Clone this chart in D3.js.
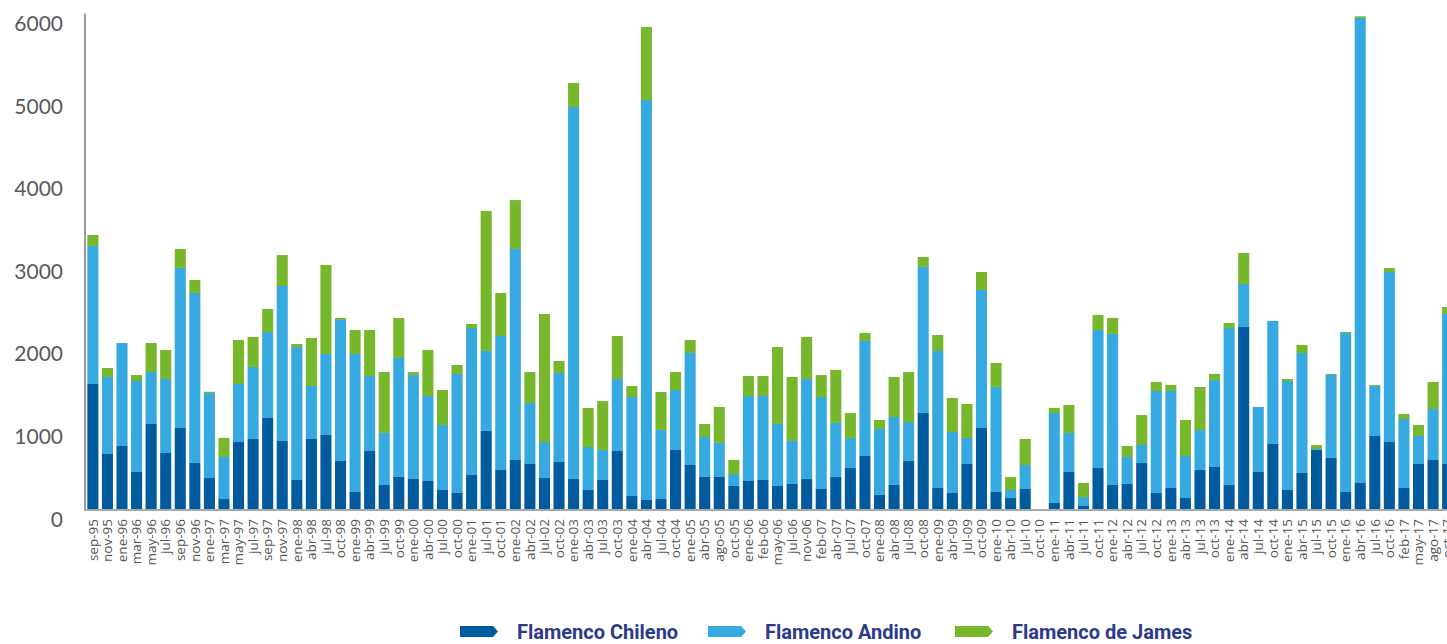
<!DOCTYPE html>
<html>
<head>
<meta charset="utf-8">
<script src="https://cdn.jsdelivr.net/npm/d3@7"></script>
<style>
  body { margin: 0; background: #fff; }
  svg { display: block; }
</style>
</head>
<body>
<svg class="chart"></svg>
<script>

var labels = ["sep-95","nov-95","ene-96","mar-96","may-96","jul-96","sep-96","nov-96","ene-97","mar-97",
	"may-97","jul-97","sep-97","nov-97","ene-98","abr-98","jul-98","oct-98","ene-99","abr-99",
	"jul-99","oct-99","ene-00","abr-00","jul-00","oct-00","ene-01","jul-01","oct-01","ene-02",
	"abr-02","jul-02","oct-02","ene-03","abr-03","jul-03","oct-03","ene-04","abr-04","jul-04",
	"oct-04","ene-05","abr-05","ago-05","oct-05","ene-06","feb-06","may-06","jul-06","nov-06",
	"feb-07","abr-07","jul-07","oct-07","ene-08","abr-08","jul-08","oct-08","ene-09","abr-09",
	"jul-09","oct-09","ene-10","abr-10","jul-10","oct-10","ene-11","abr-11","jul-11","oct-11",
	"ene-12","abr-12","jul-12","oct-12","ene-13","abr-13","jul-13","oct-13","ene-14","abr-14",
	"jul-14","oct-14","ene-15","abr-15","jul-15","oct-15","ene-16","abr-16","jul-16","oct-16",
	"feb-17","may-17","ago-17","oct-17"];

var chileno = [1514,666,763,448,1029,678,981,557,375,121,
	811,848,1102,823,351,848,896,581,206,702,
	291,388,363,339,230,194,412,945,472,593,
	545,375,569,363,230,351,702,157,109,121,
	714,533,388,388,279,339,351,279,303,363,
	242,388,496,642,170,291,581,1163,254,194,
	545,981,206,133,242,0,73,448,36,496,
	291,303,557,194,254,133,472,509,291,2204,
	448,787,230,436,714,618,206,315,884,811,
	254,545,593,545];

var andino = [1671,932,1247,1102,630,896,1938,2059,1029,509,
	702,872,1041,1877,1611,642,981,1708,1671,908,
	630,1441,1259,1029,787,1441,1780,969,1623,2555,
	739,436,1078,4505,521,363,872,1199,4844,836,
	727,1356,484,412,145,1029,1017,751,521,1211,
	1114,654,363,1393,799,823,472,1768,1659,739,
	315,1671,1272,97,291,0,1090,472,109,1671,
	1829,327,218,1235,1175,509,484,1054,1901,521,
	787,1490,1320,1453,12,1005,1925,5631,606,2059,
	836,339,618,1817];

var james = [133,109,0,73,351,351,230,157,15,230,
	533,363,279,375,36,581,1078,24,291,557,
	739,484,36,557,424,109,48,1695,521,593,
	375,1550,145,291,472,593,521,133,884,460,
	218,157,157,436,170,242,242,932,775,509,
	266,642,303,97,109,484,605,121,194,412,
	412,218,291,157,315,0,61,339,170,182,
	194,133,363,109,73,436,521,73,61,375,
	0,0,24,97,48,12,12,20,12,48,
	61,133,327,85];

var yTicks = [0,1000,2000,3000,4000,5000,6000];

var seriesNames = ["Flamenco Chileno","Flamenco Andino","Flamenco de James"];
var colors = ["#005a9e","#36a9e0","#77b72b"];

var width = 1447, height = 644;

var svg = d3.select(".chart").attr("width", width).attr("height", height);

// rows for the stack
var rows = labels.map(function(l, i){
	return {label: l, chileno: chileno[i], andino: andino[i], james: james[i]};
});
var stack = d3.stack().keys(["chileno","andino","james"]);
var layers = stack(rows);

// chart runs past the right edge like in the original
var x = d3.scaleBand().domain(labels).range([85, 1455.5]).paddingInner(0.24).paddingOuter(0.16);
var y = d3.scaleLinear().domain([0, 6000]).range([509, 13.5]);

var layer = svg.selectAll("g.layer").data(layers).enter().append("g")
	.attr("class","layer")
	.attr("fill", function(d,i){ return colors[i]; });

layer.selectAll("rect").data(function(d){ return d; }).enter().append("rect")
	.attr("x", function(d){ return x(d.data.label); })
	.attr("width", x.bandwidth())
	.attr("y", function(d){ return y(d[1]); })
	.attr("height", function(d){ return y(d[0]) - y(d[1]); });

// axis lines
svg.append("line").attr("x1",85).attr("x2",85).attr("y1",13.5).attr("y2",510)
	.attr("stroke","#9a9a9a").attr("stroke-width",2);
svg.append("line").attr("x1",84).attr("x2",width).attr("y1",510).attr("y2",510)
	.attr("stroke","#a8a8a8").attr("stroke-width",2);

// y labels (sit a bit below their lines, as in the source)
svg.selectAll("text.ytick").data(yTicks).enter().append("text")
	.attr("class","ytick")
	.attr("x", 63)
	.attr("y", function(d){ return y(d) + 10; })
	.attr("dy", "0.36em")
	.attr("text-anchor","end")
	.style("font-family","Lato, 'Open Sans', sans-serif")
	.style("font-size","21px")
	.style("fill","#5a5a5a")
	.text(function(d){ return d; });

// x labels
svg.selectAll("text.xtick").data(labels).enter().append("text")
	.attr("class","xtick")
	.attr("transform", function(d){ return "translate(" + (x(d) + x.bandwidth()/2) + ",519) rotate(-90)"; })
	.attr("dy","0.35em")
	.attr("text-anchor","end")
	.style("font-family","'Open Sans', sans-serif")
	.style("font-size","13.5px")
	.style("fill","#555")
	.text(function(d){ return d; });

// legend
var legendX = [460, 708, 955];
var leg = svg.selectAll("g.leg").data(seriesNames).enter().append("g")
	.attr("class","leg")
	.attr("transform", function(d,i){ return "translate(" + legendX[i] + ",626)"; });

leg.append("path")
	.attr("d","M0,0H33L38,5.5L33,11H0Z")
	.attr("fill", function(d,i){ return colors[i]; });

leg.append("text")
	.attr("x", 57)
	.attr("y", 5.5)
	.attr("dy","0.36em")
	.style("font-family","Roboto, 'Liberation Sans', sans-serif")
	.style("font-weight","bold")
	.style("font-size","20px")
	.style("fill","#2d3a8c")
	.text(function(d){ return d; });

</script>
</body>
</html>
